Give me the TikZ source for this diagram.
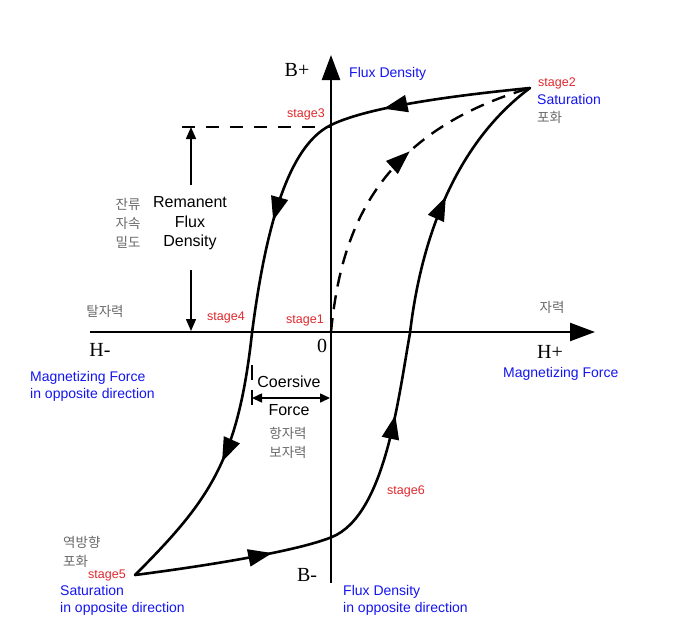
\documentclass[tikz,border=0pt]{standalone}
\usepackage{fontspec}
\setmainfont{Liberation Sans}
\newfontfamily\serifH{Liberation Serif}
\newfontfamily\korean{Noto Sans CJK KR}
\usetikzlibrary{arrows.meta,decorations.markings}
\definecolor{lblblue}{RGB}{20,20,240}
\definecolor{lblred}{RGB}{225,40,45}
\definecolor{lblgray}{RGB}{105,105,105}
\tikzset{
  bigtri/.tip={Triangle[length=24pt,width=17pt]},
  axtri/.tip={Triangle[length=25pt,width=18pt]},
  smalltri/.tip={Triangle[length=12pt,width=10pt]},
  curve/.style={line width=2.6pt, line join=round, line cap=round},
  dashcurve/.style={line width=2.4pt, dash pattern=on 14pt off 9pt},
  axis/.style={line width=2.3pt},
  eng/.style={font=\fontsize{16}{19.5}\selectfont, inner sep=0, align=center},
  bluelbl/.style={text=lblblue, font=\fontsize{14}{17}\selectfont, inner sep=0, align=left},
  stagelbl/.style={text=lblred, font=\fontsize{12.5}{15}\selectfont, inner sep=0},
  kor/.style={text=lblgray, font=\korean\fontsize{13.5}{19}\selectfont, inner sep=0, align=center},
  axlbl/.style={font=\serifH\fontsize{20}{20}\selectfont, inner sep=0}
}
\begin{document}
\begin{tikzpicture}[x=1pt,y=-1pt]
\useasboundingbox (0,0) rectangle (700,635);
% key coordinates
\coordinate (Btop) at (331,55);
\coordinate (Bbot) at (331,583);
\coordinate (Hleft) at (90,332);
\coordinate (Hright) at (595,332);
\coordinate (O) at (331,332);
\coordinate (s2) at (530,88);
\coordinate (s3) at (331,125);
\coordinate (s4) at (252,333);
\coordinate (s5) at (135,575);
\coordinate (s6) at (332,537);
\coordinate (s7) at (410,333);
% axes
\draw[axis,-axtri] (Bbot) -- (Btop);
\draw[axis,-axtri] (Hleft) -- (Hright);
% remanent flux density marker
\coordinate (remL) at (182,127);
\coordinate (remR) at (331,127);
\draw[line width=1.8pt, dash pattern=on 13pt off 11pt] (remL) -- (remR);
\coordinate (remA1) at (191,185);
\coordinate (remA2) at (191,127);
\coordinate (remB1) at (191,270);
\coordinate (remB2) at (191,331);
\draw[line width=1.5pt,-smalltri] (remA1) -- (remA2);
\draw[line width=1.5pt,-smalltri] (remB1) -- (remB2);
% coercive force marker
\coordinate (cL) at (252,398);
\coordinate (cR) at (330,398);
\draw[line width=1.5pt,{Triangle[length=10pt,width=9pt]}-{Triangle[length=10pt,width=9pt]}] (cL) -- (cR);
\coordinate (t1a) at (252,365);
\coordinate (t1b) at (252,380);
\coordinate (t2a) at (252,390);
\coordinate (t2b) at (252,405);
\draw[line width=1.5pt] (t1a) -- (t1b);
\draw[line width=1.5pt] (t2a) -- (t2b);
% initial magnetisation (dashed)
\draw[dashcurve, postaction={decorate, draw=none},
  decoration={markings, mark=at position 202pt with {\arrow[solid]{bigtri}}}]
  (O) .. controls (340,240) and (370,135) .. (s2);
% upper descending branch
\draw[curve, postaction={decorate},
  decoration={markings,
    mark=at position 148pt with {\arrow{bigtri}},
    mark=at position 318pt with {\arrow{bigtri}},
    mark=at position 565pt with {\arrow{bigtri}}}]
  (s2) .. controls (470,94) and (372,105) .. (s3)
       .. controls (285,147) and (264,240) .. (s4)
       .. controls (238,460) and (210,500) .. (s5);
% lower ascending branch
\draw[curve, postaction={decorate},
  decoration={markings,
    mark=at position 139pt with {\arrow{bigtri}},
    mark=at position 343pt with {\arrow{bigtri}},
    mark=at position 568pt with {\arrow{bigtri}}}]
  (s5) .. controls (220,564) and (300,550) .. (s6)
       .. controls (385,515) and (398,400) .. (s7)
       .. controls (422,230) and (460,140) .. (s2);
% axis labels
\node[axlbl] (Bplus) at (297,70) {B+};
\node[axlbl] (Bminus) at (307,575) {B-};
\node[axlbl] (Hminus) at (100,350) {H-};
\node[axlbl] (Hplus) at (550,352) {H+};
\node[axlbl] (zero) at (322,346) {0};
% blue labels
\node[bluelbl, anchor=west] (fluxd) at (349,74) {Flux Density};
\node[bluelbl, anchor=west] (satu) at (537,99) {Saturation};
\node[bluelbl, anchor=west] (magf) at (503,374) {Magnetizing Force};
\node[bluelbl, anchor=west] (magfo) at (30,386.5) {Magnetizing Force\\in opposite direction};
\node[bluelbl, anchor=west] (sato) at (60,600.5) {Saturation\\in opposite direction};
\node[bluelbl, anchor=west] (fluxo) at (343,600) {Flux Density\\in opposite direction};
% stage labels
\node[stagelbl, anchor=west] (st2) at (538,83) {stage2};
\node[stagelbl] (st3) at (306,114) {stage3};
\node[stagelbl] (st4) at (226,317) {stage4};
\node[stagelbl] (st1) at (305,320) {stage1};
\node[stagelbl] (st5) at (107,575) {stage5};
\node[stagelbl] (st6) at (406,491) {stage6};
% black labels
\node[eng] (rem) at (190,223.5) {Remanent\\Flux\\Density};
\node[eng] (coer) at (289,382) {Coersive};
\node[eng] (force) at (289,410) {Force};
% korean labels
\node[kor] (kRem) at (128,223) {잔류\\자속\\밀도};
\node[kor] (kDemag) at (105,311) {탈자력};
\node[kor] (kMag) at (552,307) {자력};
\node[kor, anchor=west] (kSat) at (537,117) {포화};
\node[kor] (kCoer) at (288,443) {항자력\\보자력};
\node[kor, anchor=west, align=left] (kRsat) at (63,552) {역방향\\포화};
\end{tikzpicture}
\end{document}
